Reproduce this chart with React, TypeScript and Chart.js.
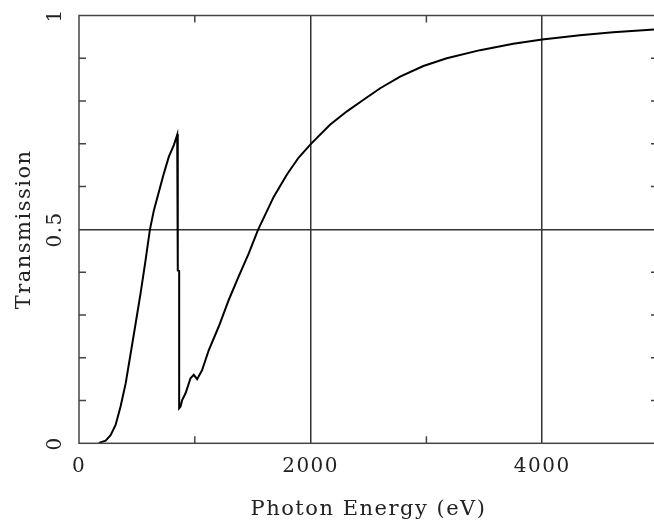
import React, { useEffect, useRef } from 'react';
import { Chart, registerables } from 'chart.js';

Chart.register(...registerables);

// Photon energy (eV) and transmission
const energies = [
  172, 230, 273, 316, 359, 403, 446, 489, 532, 575, 612, 647, 690, 733, 776, 819, 842, 848, 853,
  853, 865, 865, 877, 891, 920, 963, 991, 1020, 1063, 1121, 1207, 1293, 1379, 1466, 1546, 1681,
  1797, 1897, 2003, 2170, 2314, 2457, 2601, 2773, 2974, 3176, 3463, 3750, 4000, 4325, 4612, 5000,
];
const transmission = [
  0.001, 0.006, 0.019, 0.043, 0.086, 0.14, 0.21, 0.28, 0.351, 0.428, 0.499, 0.545, 0.588, 0.631,
  0.67, 0.697, 0.716, 0.721, 0.723, 0.404, 0.403, 0.082, 0.086, 0.101, 0.117, 0.152, 0.16, 0.15,
  0.171, 0.218, 0.273, 0.335, 0.39, 0.444, 0.499, 0.576, 0.629, 0.668, 0.7, 0.745, 0.776, 0.803,
  0.83, 0.857, 0.882, 0.9, 0.919, 0.934, 0.944, 0.954, 0.961, 0.968,
];

const xMajorTicks = [0, 2000, 4000];
const xGridLines = [2000, 4000];
const xMinorTicks = [1000, 3000];
const yMajorTicks = [0, 0.5, 1];
const yGridLines = [0.5];
const yMinorTicks = [0.1, 0.2, 0.3, 0.4, 0.6, 0.7, 0.8, 0.9];
const xTitle = 'Photon Energy (eV)';
const yTitle = 'Transmission';

const FONT = "'DejaVu Serif', serif";
const TEXT = '#222';
const AXIS = '#444';

const near = (a: number, b: number) => Math.abs(a - b) < 1e-6;

const framePlugin = {
  id: 'frame',
  beforeLayout(chart: any) {
    chart.ctx.letterSpacing = '1.5px';
  },
  beforeDraw(chart: any) {
    chart.ctx.letterSpacing = '1.5px';
  },
  afterDraw(chart: any) {
    const { ctx, chartArea: a, scales } = chart;
    const x = scales.x;
    const y = scales.y;
    ctx.save();
    ctx.strokeStyle = AXIS;
    ctx.lineWidth = 1.5;
    ctx.strokeRect(a.left, a.top, a.right - a.left, a.bottom - a.top);
    const L = 7;
    ctx.beginPath();
    for (const v of xMinorTicks) {
      const px = x.getPixelForValue(v);
      ctx.moveTo(px, a.bottom);
      ctx.lineTo(px, a.bottom - L);
      ctx.moveTo(px, a.top);
      ctx.lineTo(px, a.top + L);
    }
    for (const v of yMinorTicks) {
      const py = y.getPixelForValue(v);
      ctx.moveTo(a.left, py);
      ctx.lineTo(a.left + L, py);
      ctx.moveTo(a.right, py);
      ctx.lineTo(a.right - L, py);
    }
    ctx.stroke();
    ctx.restore();
  },
};

export default function App() {
  const ref = useRef<HTMLCanvasElement>(null);

  useEffect(() => {
    if (!ref.current) return;
    const chart = new Chart(ref.current, {
      type: 'line',
      data: {
        datasets: [
          {
            data: energies.map((e, i) => ({ x: e, y: transmission[i] })),
            borderColor: '#000',
            borderWidth: 2,
            pointRadius: 0,
            tension: 0,
            fill: false,
          },
        ],
      },
      options: {
        animation: false,
        responsive: false,
        layout: { padding: { top: 15.5, right: 1, left: 0, bottom: 0 } },
        plugins: { legend: { display: false }, tooltip: { enabled: false } },
        scales: {
          x: {
            type: 'linear',
            min: 0,
            max: 5000,
            afterFit: (s: any) => {
              s.height = 81.7;
            },
            ticks: {
              stepSize: 1000,
              autoSkip: false,
              maxRotation: 0,
              padding: 11,
              color: TEXT,
              font: { family: FONT, size: 20 },
              callback: (v: any) => (xMajorTicks.some((t) => near(t, v)) ? String(v) : ''),
            },
            grid: {
              drawTicks: false,
              lineWidth: 1.5,
              color: (c: any) =>
                c.tick && xGridLines.some((t) => near(t, c.tick.value)) ? '#333' : 'rgba(0,0,0,0)',
            },
            border: { display: false },
            title: {
              display: true,
              text: xTitle,
              color: TEXT,
              font: { family: FONT, size: 21 },
              padding: { top: 0, bottom: 3 },
            },
          },
          y: {
            type: 'linear',
            min: 0,
            max: 1,
            afterFit: (s: any) => {
              s.width = 79;
            },
            ticks: {
              stepSize: 0.1,
              autoSkip: false,
              minRotation: 90,
              maxRotation: 90,
              crossAlign: 'center',
              padding: 5.5,
              color: TEXT,
              font: { family: FONT, size: 20, lineHeight: 1 },
              callback: (v: any) => {
                const m = yMajorTicks.find((t) => near(t, v));
                return m === undefined ? '' : String(m);
              },
            },
            grid: {
              drawTicks: false,
              lineWidth: 1.5,
              color: (c: any) =>
                c.tick && yGridLines.some((t) => near(t, c.tick.value)) ? '#333' : 'rgba(0,0,0,0)',
            },
            border: { display: false },
            title: {
              display: true,
              text: yTitle,
              color: TEXT,
              font: { family: FONT, size: 21 },
              padding: { top: 12, bottom: 0 },
            },
          },
        },
      } as any,
      plugins: [framePlugin],
    });
    return () => chart.destroy();
  }, []);

  return (
    <div
      style={{
        position: 'fixed',
        left: 0,
        top: 0,
        width: 654,
        height: 525,
        overflow: 'hidden',
        background: '#fff',
      }}
    >
      <canvas ref={ref} width={669} height={525} style={{ display: 'block', width: 669, height: 525 }} />
    </div>
  );
}
